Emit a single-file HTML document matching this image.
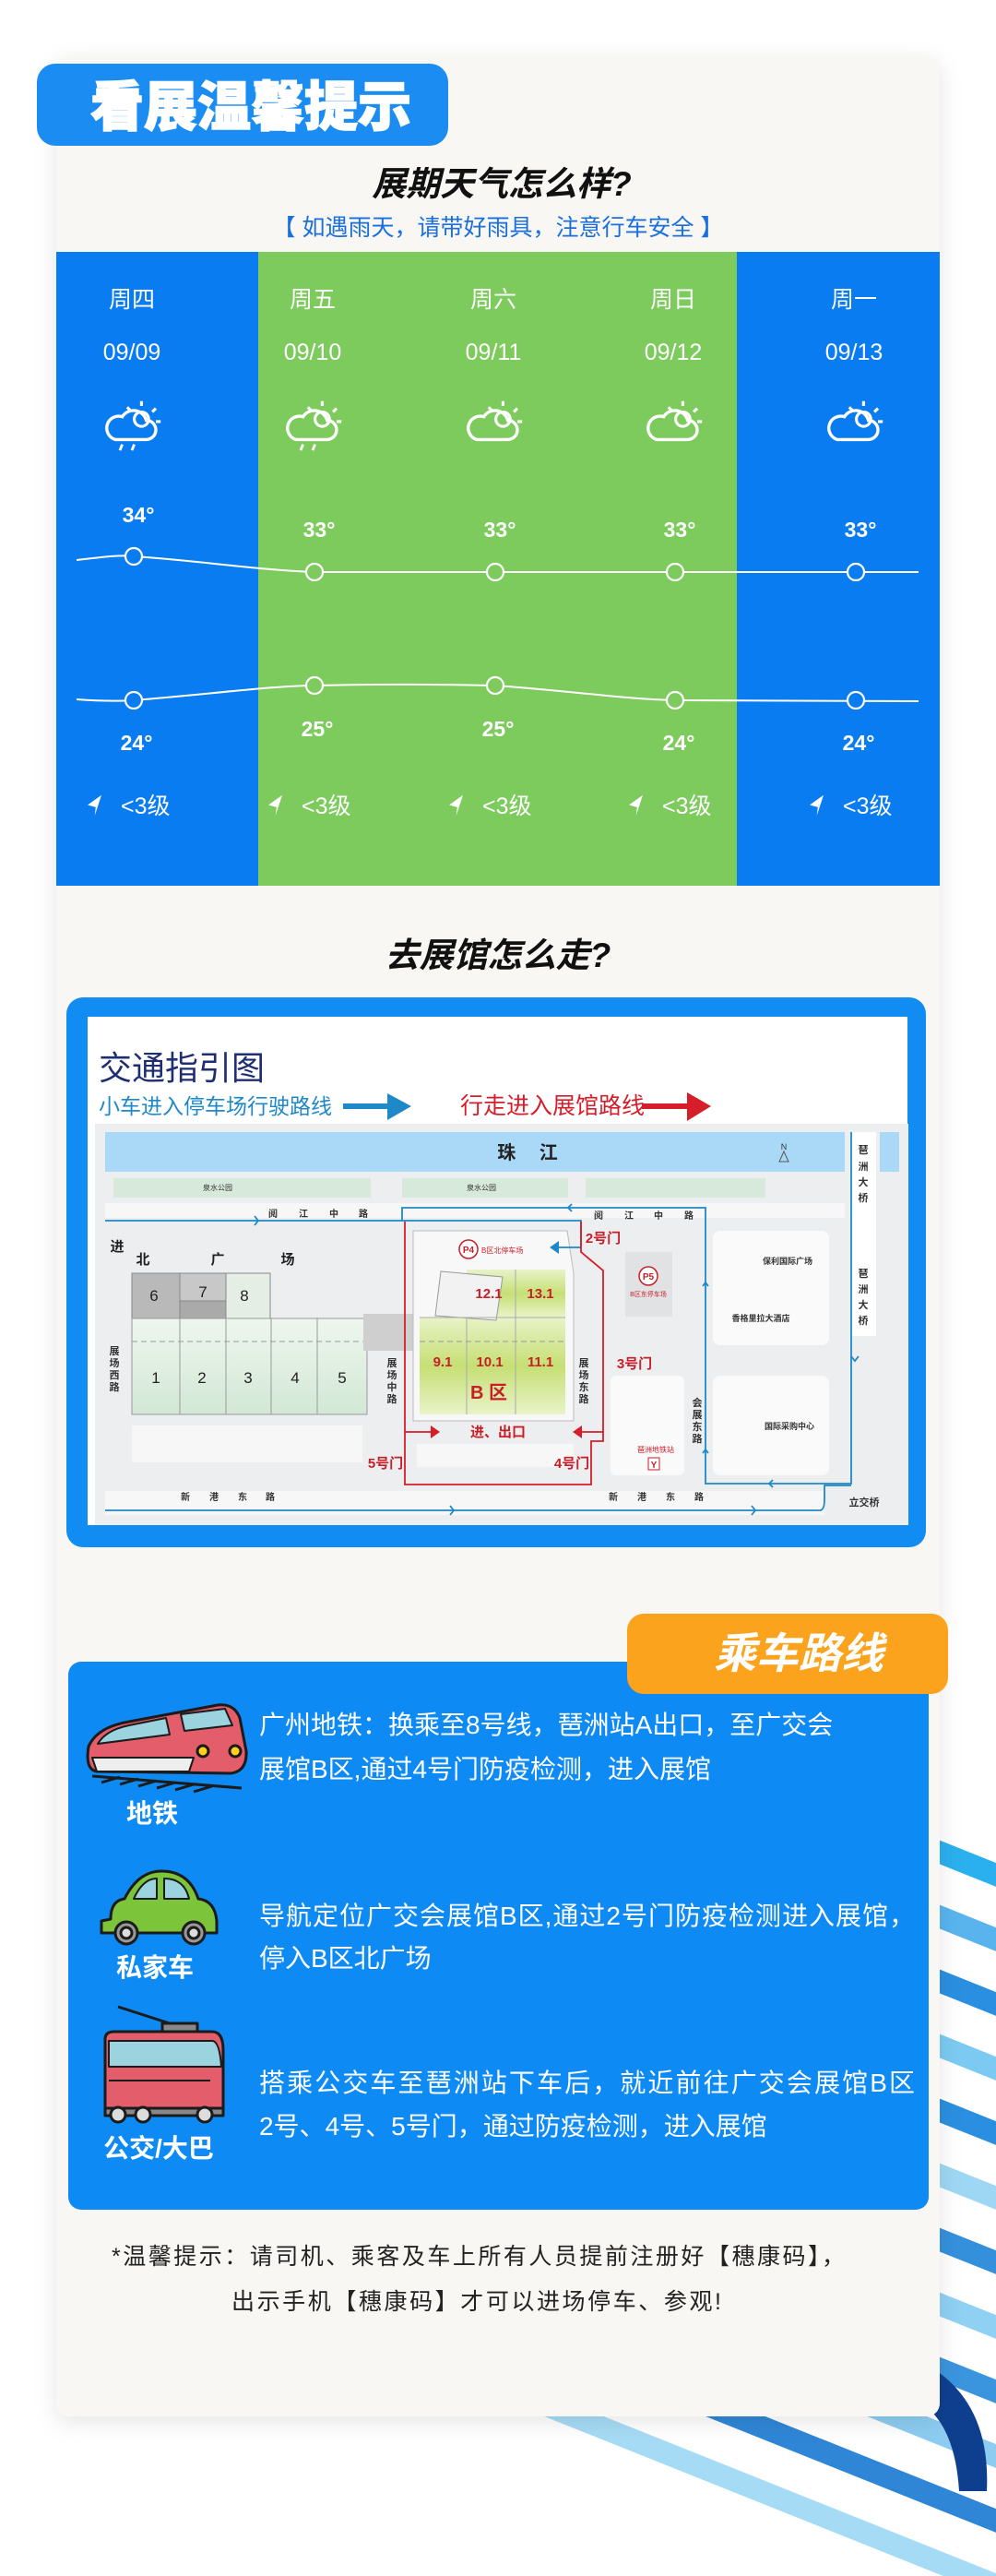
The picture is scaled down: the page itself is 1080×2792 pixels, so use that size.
<!DOCTYPE html>
<html><head><meta charset="utf-8">
<style>
html,body{margin:0;padding:0;background:#fff;}
body{width:1080px;height:2792px;position:relative;overflow:hidden;font-family:"Liberation Sans","Noto Sans CJK SC",sans-serif;}
svg{position:absolute;left:0;top:0;}
text{font-family:"Liberation Sans","Noto Sans CJK SC",sans-serif;}
</style></head><body>
<svg width="1080" height="2792" viewBox="0 0 1080 2792" xmlns="http://www.w3.org/2000/svg">
<defs>
<filter id="sh" x="-10%" y="-10%" width="120%" height="120%"><feDropShadow dx="0" dy="6" stdDeviation="12" flood-color="#000" flood-opacity="0.10"/></filter>
<linearGradient id="bz" x1="0" y1="0" x2="0" y2="1"><stop offset="0" stop-color="#e8f3c8"/><stop offset="0.5" stop-color="#c6df74"/><stop offset="1" stop-color="#e9f3c8"/></linearGradient>
<linearGradient id="hl" x1="0" y1="0" x2="0" y2="1"><stop offset="0" stop-color="#eef6ee"/><stop offset="1" stop-color="#d2e8d6"/></linearGradient>
<clipPath id="dec"><polygon points="1019,1880 1080,1880 1080,2792 470,2792 470,2400 1019,2400"/></clipPath>
<g id="cloud"><path d="M-14,8 h26 a8,8 0 0 0 0,-16 a11,11 0 0 0 -20,-3 a8,8 0 0 0 -6,19z" fill="none" stroke="#fff" stroke-width="2.6"/><circle cx="8" cy="-9" r="6" fill="none" stroke="#fff" stroke-width="2.4"/><path d="M8,-20 v-4 M17,-15 l3,-3 M20,-7 h4 M-1,-16 l-3,-3" stroke="#fff" stroke-width="2.4"/></g>
<g id="arr"><path d="M0,-9 L-9,2 L-2,2 L-1,9 Z" fill="#fff" transform="rotate(15)"/></g>
</defs>

<!-- decorative stripes -->
<g clip-path="url(#dec)">
<g stroke-width="24" fill="none">
<line x1="300" y1="1720" x2="1200" y2="2080" stroke="#2ab0ee"/>
<line x1="300" y1="1790" x2="1200" y2="2150" stroke="#59b4ee"/>
<line x1="300" y1="1860" x2="1200" y2="2220" stroke="#2a8fe0"/>
<line x1="300" y1="1930" x2="1200" y2="2290" stroke="#7ccaf2"/>
<line x1="300" y1="2000" x2="1200" y2="2360" stroke="#2a8fe0"/>
<line x1="300" y1="2070" x2="1200" y2="2430" stroke="#9ed7f4"/>
<line x1="300" y1="2140" x2="1200" y2="2500" stroke="#3590dc"/>
<line x1="300" y1="2210" x2="1200" y2="2570" stroke="#8fd0f3"/>
<line x1="300" y1="2280" x2="1200" y2="2640" stroke="#3a94de"/>
<line x1="300" y1="2350" x2="1200" y2="2710" stroke="#8cccf0"/>
<line x1="300" y1="2420" x2="1200" y2="2780" stroke="#2f86d6"/>
<line x1="300" y1="2490" x2="1200" y2="2850" stroke="#a6dbf5"/>
</g>
<path d="M1000,2560 Q1075,2600 1070,2700 L1040,2700 Q1035,2620 990,2600Z" fill="#0e3f8f"/>
</g>

<!-- card -->
<rect x="61" y="61" width="958" height="2558" rx="14" fill="#f8f7f3" filter="url(#sh)"/>

<!-- badge -->
<rect x="40" y="69" width="446" height="89" rx="20" fill="#1a8cf2"/>
<text x="272" y="136" font-size="58" font-weight="900" fill="#fff" text-anchor="middle" stroke="#fff" stroke-width="1.5">看展温馨提示</text>

<text x="544" y="212" font-size="37" font-weight="bold" font-style="italic" fill="#111" text-anchor="middle">展期天气怎么样?</text>
<text x="540" y="255" font-size="25" fill="#1a6fdf" text-anchor="middle">【 如遇雨天，请带好雨具，注意行车安全 】</text>

<!-- weather -->
<rect x="61" y="273" width="219" height="687" fill="#0a7cf2"/>
<rect x="280" y="273" width="519" height="687" fill="#7dcb5c"/>
<rect x="799" y="273" width="220" height="687" fill="#0a7cf2"/>
<g fill="#fff" font-size="25" text-anchor="middle">
<text x="143" y="333">周四</text><text x="339" y="333">周五</text><text x="535" y="333">周六</text><text x="730" y="333">周日</text><text x="926" y="333">周一</text>
<text x="143" y="390">09/09</text><text x="339" y="390">09/10</text><text x="535" y="390">09/11</text><text x="730" y="390">09/12</text><text x="926" y="390">09/13</text>
</g>
<g transform="translate(143,466) scale(1.3)"><use href="#cloud"/><path d="M-8,12 l-2,5 M2,12 l-2,5" stroke="#fff" stroke-width="2.2"/></g>
<g transform="translate(339,466) scale(1.3)"><use href="#cloud"/><path d="M-8,12 l-2,5 M2,12 l-2,5" stroke="#fff" stroke-width="2.2"/></g>
<g transform="translate(535,466) scale(1.3)"><use href="#cloud"/></g>
<g transform="translate(730,466) scale(1.3)"><use href="#cloud"/></g>
<g transform="translate(926,466) scale(1.3)"><use href="#cloud"/></g>
<g fill="#fff" font-size="23" font-weight="bold" text-anchor="middle">
<text x="150" y="566">34°</text><text x="346" y="582">33°</text><text x="542" y="582">33°</text><text x="737" y="582">33°</text><text x="933" y="582">33°</text>
<text x="148" y="813">24°</text><text x="344" y="798">25°</text><text x="540" y="798">25°</text><text x="736" y="813">24°</text><text x="931" y="813">24°</text>
</g>
<path d="M83,607 C110,604 130,601 145,603 C220,608 280,618 341,620 L996,620" fill="none" stroke="#fff" stroke-width="2"/>
<path d="M83,758 C110,760 130,760 145,759 C230,752 300,743 341,743 C420,741 480,742 537,743 C620,749 680,758 732,759 L996,760" fill="none" stroke="#fff" stroke-width="2"/>
<g fill="none" stroke="#fff" stroke-width="2.2">
<circle cx="145" cy="603" r="9" fill="#0a7cf2"/><circle cx="341" cy="620" r="9" fill="#7dcb5c"/><circle cx="537" cy="620" r="9" fill="#7dcb5c"/><circle cx="732" cy="620" r="9" fill="#7dcb5c"/><circle cx="928" cy="620" r="9" fill="#0a7cf2"/>
<circle cx="145" cy="759" r="9" fill="#0a7cf2"/><circle cx="341" cy="743" r="9" fill="#7dcb5c"/><circle cx="537" cy="743" r="9" fill="#7dcb5c"/><circle cx="732" cy="759" r="9" fill="#7dcb5c"/><circle cx="928" cy="759" r="9" fill="#0a7cf2"/>
</g>
<g fill="#fff" font-size="25">
<g transform="translate(107,873) scale(1.3)"><use href="#arr"/></g><text x="131" y="882">&lt;3级</text>
<g transform="translate(303,873) scale(1.3)"><use href="#arr"/></g><text x="327" y="882">&lt;3级</text>
<g transform="translate(499,873) scale(1.3)"><use href="#arr"/></g><text x="523" y="882">&lt;3级</text>
<g transform="translate(694,873) scale(1.3)"><use href="#arr"/></g><text x="718" y="882">&lt;3级</text>
<g transform="translate(890,873) scale(1.3)"><use href="#arr"/></g><text x="914" y="882">&lt;3级</text>
</g>

<text x="540" y="1048" font-size="37" font-weight="bold" font-style="italic" fill="#111" text-anchor="middle">去展馆怎么走?</text>

<!-- map frame -->
<rect x="72" y="1081" width="932" height="596" rx="18" fill="#108cf3"/>
<rect x="95" y="1102" width="889" height="551" fill="#fff"/>
<text x="107" y="1170" font-size="36" fill="#1f2d73">交通指引图</text>
<text x="107" y="1207" font-size="23" fill="#1e88c8">小车进入停车场行驶路线</text>
<path d="M372,1199 h52" stroke="#1e88c8" stroke-width="6"/><path d="M420,1185 L446,1199 L420,1214 Z" fill="#1e88c8"/>
<text x="499" y="1207" font-size="25" fill="#d61e2a">行走进入展馆路线</text>
<path d="M696,1199 h54" stroke="#d61e2a" stroke-width="6"/><path d="M745,1184 L771,1199 L745,1215 Z" fill="#d61e2a"/>

<rect x="103" y="1218" width="882" height="435" fill="#eceef0"/>
<rect x="114" y="1227" width="802" height="43" fill="#a9d9f6"/>
<rect x="954" y="1227" width="21" height="43" fill="#a9d9f6"/>
<text x="572" y="1256" font-size="20" font-weight="bold" fill="#222" text-anchor="middle">珠 　江</text>
<text x="850" y="1246" font-size="9" fill="#333" text-anchor="middle">N</text>
<path d="M850,1248 l-5,11 h10z" fill="none" stroke="#555" stroke-width="1"/>
<rect x="923" y="1227" width="27" height="221" fill="#fff"/>
<g font-size="11" fill="#333" text-anchor="middle" font-weight="bold">
<text x="936" y="1250">琶</text><text x="936" y="1268">洲</text><text x="936" y="1285">大</text><text x="936" y="1302">桥</text>
<text x="936" y="1384">琶</text><text x="936" y="1401">洲</text><text x="936" y="1418">大</text><text x="936" y="1435">桥</text>
</g>
<rect x="123" y="1277" width="279" height="21" fill="#d6e9da"/>
<rect x="436" y="1277" width="180" height="21" fill="#d6e9da"/>
<rect x="635" y="1277" width="195" height="21" fill="#d6e9da"/>
<text x="236" y="1290" font-size="8" fill="#333" text-anchor="middle">泉水公园</text>
<text x="522" y="1290" font-size="8" fill="#333" text-anchor="middle">泉水公园</text>
<rect x="114" y="1304" width="802" height="16" fill="#f7f7f7"/>
<rect x="114" y="1616" width="780" height="26" fill="#f7f7f7"/>
<rect x="143" y="1545" width="250" height="40" fill="#f7f7f7"/>
<rect x="452" y="1565" width="170" height="25" fill="#f7f7f7"/>
<g font-size="10" fill="#333" font-weight="bold" text-anchor="middle">
<text x="296" y="1319">阅</text><text x="329" y="1319">江</text><text x="362" y="1319">中</text><text x="394" y="1319">路</text>
<text x="649" y="1321">阅</text><text x="682" y="1321">江</text><text x="714" y="1321">中</text><text x="747" y="1321">路</text>
<text x="201" y="1626">新</text><text x="232" y="1626">港</text><text x="263" y="1626">东</text><text x="293" y="1626">路</text>
<text x="665" y="1626">新</text><text x="696" y="1626">港</text><text x="727" y="1626">东</text><text x="758" y="1626">路</text>
<text x="937" y="1632" font-size="11">立交桥</text>
</g>
<rect x="143" y="1380" width="52" height="49" fill="#b9b9b9" stroke="#888"/>
<rect x="195" y="1380" width="50" height="30" fill="#c8c8c8" stroke="#888"/>
<rect x="195" y="1410" width="50" height="19" fill="#aaa" stroke="#888"/>
<rect x="245" y="1380" width="48" height="49" fill="#e4eee4" stroke="#888"/>
<rect x="143" y="1429" width="255" height="104" fill="url(#hl)" stroke="#999"/>
<g stroke="#999"><line x1="195" y1="1429" x2="195" y2="1533"/><line x1="245" y1="1429" x2="245" y2="1533"/><line x1="294" y1="1429" x2="294" y2="1533"/><line x1="344" y1="1429" x2="344" y2="1533"/></g>
<line x1="143" y1="1454" x2="398" y2="1454" stroke="#999" stroke-dasharray="6,4"/>
<rect x="394" y="1424" width="61" height="40" fill="#cfcfcf"/>
<g font-size="17" fill="#222" text-anchor="middle">
<text x="167" y="1410">6</text><text x="220" y="1406">7</text><text x="265" y="1410">8</text>
<text x="169" y="1499">1</text><text x="219" y="1499">2</text><text x="269" y="1499">3</text><text x="320" y="1499">4</text><text x="371" y="1499">5</text>
</g>
<g font-size="15" font-weight="bold" fill="#222" text-anchor="middle"><text x="127" y="1356">进</text><text x="155" y="1370">北</text><text x="236" y="1370">广</text><text x="312" y="1370">场</text></g>
<g font-size="11" fill="#333" font-weight="bold" text-anchor="middle">
<text x="124" y="1468">展</text><text x="124" y="1481">场</text><text x="124" y="1494">西</text><text x="124" y="1507">路</text>
<text x="425" y="1481">展</text><text x="425" y="1494">场</text><text x="425" y="1507">中</text><text x="425" y="1520">路</text>
<text x="633" y="1481">展</text><text x="633" y="1494">场</text><text x="633" y="1507">东</text><text x="633" y="1520">路</text>
<text x="756" y="1524">会</text><text x="756" y="1537">展</text><text x="756" y="1550">东</text><text x="756" y="1563">路</text>
</g>
<path d="M448,1334 L615,1334 L622,1380 L622,1540 L448,1540 Z" fill="#f8f8f8" stroke="#bbb"/>
<rect x="506" y="1376" width="107" height="52" fill="url(#bz)"/>
<rect x="455" y="1428" width="158" height="105" fill="url(#bz)"/>
<path d="M478,1378 L545,1384 L538,1431 L472,1426 Z" fill="#f2f2f2" stroke="#999"/>
<g stroke="#aaa"><line x1="506" y1="1428" x2="506" y2="1533"/><line x1="559" y1="1376" x2="559" y2="1533"/><line x1="455" y1="1428" x2="613" y2="1428"/></g>
<line x1="455" y1="1454" x2="613" y2="1454" stroke="#999" stroke-dasharray="6,4"/>
<g font-size="15" font-weight="bold" fill="#c81e28" text-anchor="middle">
<text x="530" y="1407">12.1</text><text x="586" y="1407">13.1</text>
<text x="480" y="1481">9.1</text><text x="531" y="1481">10.1</text><text x="586" y="1481">11.1</text>
<text x="530" y="1516" font-size="20">B 区</text>
</g>
<circle cx="508" cy="1354" r="10" fill="#fff" stroke="#c81e28" stroke-width="1.5"/>
<text x="508" y="1358" font-size="10" font-weight="bold" fill="#c81e28" text-anchor="middle">P4</text>
<text x="522" y="1358" font-size="8" fill="#c81e28">B区北停车场</text>
<rect x="678" y="1357" width="51" height="70" fill="#e0e2e4"/>
<circle cx="703" cy="1383" r="10" fill="#fff" stroke="#c81e28" stroke-width="1.5"/>
<text x="703" y="1387" font-size="10" font-weight="bold" fill="#c81e28" text-anchor="middle">P5</text>
<text x="703" y="1405" font-size="7" fill="#c81e28" text-anchor="middle">B区东停车场</text>
<rect x="773" y="1334" width="126" height="124" rx="8" fill="#fafafa"/>
<rect x="773" y="1491" width="126" height="108" rx="8" fill="#fafafa"/>
<rect x="662" y="1491" width="80" height="108" rx="6" fill="#fafafa"/>
<g font-size="9" fill="#333" font-weight="bold" text-anchor="middle"><text x="854" y="1370">保利国际广场</text><text x="825" y="1432">香格里拉大酒店</text><text x="856" y="1549">国际采购中心</text></g>
<text x="711" y="1574" font-size="8" fill="#c81e28" text-anchor="middle">琶洲地铁站</text>
<rect x="703" y="1580" width="12" height="13" fill="#fff" stroke="#c81e28"/><text x="709" y="1591" font-size="10" font-weight="bold" fill="#c81e28" text-anchor="middle">Y</text>
<g fill="none" stroke="#1e88c8" stroke-width="1.8">
<path d="M114,1323 H630 V1352 H604"/>
<path d="M436,1323 V1309 H765 V1608 H923 V1227"/>
<path d="M114,1637 H889 Q894,1637 894,1625 V1610 H923"/>
<path d="M276,1318 l4,5 l-4,5 M620,1305 l-4,4 l4,4 M488,1632 l4,5 l-4,5 M815,1632 l4,5 l-4,5 M762,1394 l3,-4 l3,4 M762,1575 l3,-4 l3,4 M838,1604 l-4,4 l4,4 M923,1470 l4,5 l4,-5"/>
</g>
<path d="M596,1352 l10,-7 v14z" fill="#1e88c8"/>
<g fill="none" stroke="#d61e2a" stroke-width="1.8">
<path d="M439,1324 V1609 H641 V1562 H654 V1377 L630,1357 V1324"/>
<path d="M439,1552 H468 M654,1552 H630"/>
</g>
<path d="M467,1545 l10,7 l-10,7z M631,1545 l-10,7 l10,7z" fill="#d61e2a"/>
<g font-size="15" font-weight="bold" fill="#c81e28" text-anchor="middle">
<text x="654" y="1347">2号门</text><text x="688" y="1483">3号门</text><text x="620" y="1591">4号门</text><text x="418" y="1591">5号门</text><text x="540" y="1557">进、出口</text>
</g>

<!-- transport section -->
<rect x="74" y="1801" width="933" height="594" rx="14" fill="#0e8af5"/>
<rect x="680" y="1749" width="348" height="87" rx="18" fill="#fba31c"/>
<text x="866" y="1808" font-size="46" font-weight="bold" font-style="italic" fill="#fff" text-anchor="middle">乘车路线</text>

<g stroke="#1b1b1b" stroke-width="3" stroke-linejoin="round">
<path d="M100,1925 L262,1938 M110,1932 l20,-6 M130,1934 l20,-6 M150,1936 l20,-6 M170,1938 l20,-6 M190,1940 l20,-6 M210,1942 l20,-6" fill="none"/>
<path d="M96,1893 Q105,1872 140,1866 L236,1848 Q254,1846 260,1862 L267,1898 Q268,1920 250,1922 L105,1920 Q92,1918 96,1893Z" fill="#e45d6a"/>
<path d="M106,1890 L184,1880 L180,1862 L140,1870 Q115,1875 106,1890Z" fill="#9bd3df" stroke-width="2"/>
<path d="M200,1876 L252,1870 L244,1852 L196,1858Z" fill="#9bd3df" stroke-width="2"/>
<path d="M100,1905 L210,1905 L205,1920 L105,1920Z" fill="#eee" stroke-width="2"/>
<circle cx="220" cy="1898" r="6" fill="#ffd21e"/><circle cx="255" cy="1898" r="6" fill="#ffd21e"/>
</g>
<text x="165" y="1975" font-size="28" font-weight="bold" fill="#fff" text-anchor="middle">地铁</text>
<g stroke="#1b1b1b" stroke-width="3" stroke-linejoin="round">
<path d="M120,2080 Q120,2060 135,2058 Q150,2028 175,2028 Q205,2028 215,2058 Q233,2060 235,2082 L235,2095 L110,2095 L110,2082Z" fill="#7cc53a"/>
<path d="M145,2058 Q155,2036 170,2036 L170,2058Z M178,2036 Q200,2036 205,2058 L178,2058Z" fill="#9bd3df" stroke-width="2"/>
<circle cx="137" cy="2095" r="12" fill="#999"/><circle cx="137" cy="2095" r="6" fill="#ddd"/>
<circle cx="210" cy="2095" r="12" fill="#999"/><circle cx="210" cy="2095" r="6" fill="#ddd"/>
</g>
<text x="168" y="2142" font-size="28" font-weight="bold" fill="#fff" text-anchor="middle">私家车</text>
<g stroke="#1b1b1b" stroke-width="3" stroke-linejoin="round">
<path d="M128,2175 L190,2195" fill="none"/>
<rect x="176" y="2193" width="38" height="9" fill="#888"/>
<path d="M114,2210 Q114,2202 124,2202 L230,2202 Q242,2202 242,2222 L242,2285 L114,2285Z" fill="#e45d6a"/>
<path d="M118,2212 h112 Q238,2212 240,2240 L118,2240Z" fill="#9bd3df" stroke-width="2"/>
<path d="M118,2255 h110" fill="none" stroke-width="2"/>
<rect x="114" y="2285" width="128" height="8" fill="#888"/>
<circle cx="128" cy="2292" r="8" fill="#ddd"/><circle cx="155" cy="2292" r="8" fill="#ddd"/><circle cx="222" cy="2292" r="8" fill="#ddd"/>
</g>
<text x="172" y="2338" font-size="28" font-weight="bold" fill="#fff" text-anchor="middle">公交/大巴</text>

<g font-size="28" fill="#fff">
<text x="281" y="1879">广州地铁：换乘至8号线，琶洲站A出口，至广交会</text>
<text x="281" y="1927">展馆B区,通过4号门防疫检测，进入展馆</text>
<text x="281" y="2086" textLength="711">导航定位广交会展馆B区,通过2号门防疫检测进入展馆，</text>
<text x="281" y="2132">停入B区北广场</text>
<text x="281" y="2267" textLength="711">搭乘公交车至琶洲站下车后，就近前往广交会展馆B区</text>
<text x="281" y="2314">2号、4号、5号门，通过防疫检测，进入展馆</text>
</g>

<g font-size="25" fill="#222">
<text x="121" y="2454" textLength="795">*温馨提示：请司机、乘客及车上所有人员提前注册好【穗康码】，</text>
<text x="251" y="2503" textLength="531">出示手机【穗康码】才可以进场停车、参观!</text>
</g>
</svg>
</body></html>
